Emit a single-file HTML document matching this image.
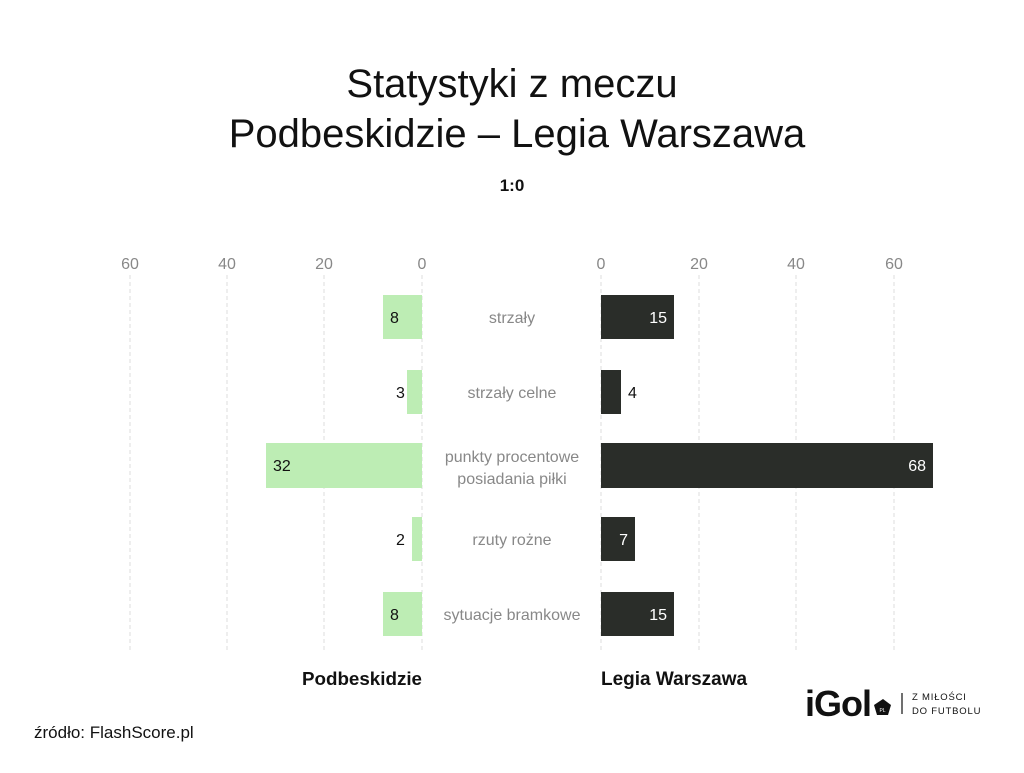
<!DOCTYPE html>
<html><head><meta charset="utf-8"><style>
body{margin:0;background:#fff;}
svg text{font-family:"Liberation Sans",sans-serif;}
</style></head><body>
<svg width="1024" height="768" viewBox="0 0 1024 768" xmlns="http://www.w3.org/2000/svg">
<rect width="1024" height="768" fill="#fff"/>
<text x="512" y="97" font-size="40" text-anchor="middle" fill="#111">Statystyki z meczu</text>
<text x="517" y="147" font-size="40" text-anchor="middle" fill="#111">Podbeskidzie – Legia Warszawa</text>
<text x="512" y="191" font-size="17" font-weight="bold" text-anchor="middle" fill="#111">1:0</text>
<g stroke="#ddd" stroke-width="1" stroke-dasharray="4,3">
<line x1="130" y1="275" x2="130" y2="652"/><line x1="227" y1="275" x2="227" y2="652"/><line x1="324" y1="275" x2="324" y2="652"/><line x1="422" y1="275" x2="422" y2="652"/>
<line x1="601" y1="275" x2="601" y2="652"/><line x1="699" y1="275" x2="699" y2="652"/><line x1="796" y1="275" x2="796" y2="652"/><line x1="894" y1="275" x2="894" y2="652"/>
</g>
<g font-size="16" fill="#888" text-anchor="middle">
<text x="130" y="269">60</text><text x="227" y="269">40</text><text x="324" y="269">20</text><text x="422" y="269">0</text>
<text x="601" y="269">0</text><text x="699" y="269">20</text><text x="796" y="269">40</text><text x="894" y="269">60</text>
</g>
<g fill="#bdedb4">
<rect x="383" y="295" width="39" height="44"/>
<rect x="407" y="370" width="15" height="44"/>
<rect x="266" y="443" width="156" height="45"/>
<rect x="412" y="517" width="10" height="44"/>
<rect x="383" y="592" width="39" height="44"/>
</g>
<g fill="#2a2d29">
<rect x="601" y="295" width="73" height="44"/>
<rect x="601" y="370" width="20" height="44"/>
<rect x="601" y="443" width="332" height="45"/>
<rect x="601" y="517" width="34" height="44"/>
<rect x="601" y="592" width="73" height="44"/>
</g>
<g font-size="16" fill="#111">
<text x="390" y="323">8</text>
<text x="396" y="398">3</text>
<text x="273" y="471">32</text>
<text x="396" y="545">2</text>
<text x="390" y="620">8</text>
<text x="628" y="398">4</text>
</g>
<g font-size="16" fill="#fff" text-anchor="end">
<text x="667" y="323">15</text>
<text x="926" y="471">68</text>
<text x="628" y="545">7</text>
<text x="667" y="620">15</text>
</g>
<g font-size="16" fill="#888" text-anchor="middle">
<text x="512" y="323">strzały</text>
<text x="512" y="398">strzały celne</text>
<text x="512" y="462">punkty procentowe</text>
<text x="512" y="484">posiadania piłki</text>
<text x="512" y="545">rzuty rożne</text>
<text x="512" y="620">sytuacje bramkowe</text>
</g>
<text x="422" y="685" font-size="18.8" font-weight="bold" text-anchor="end" fill="#111">Podbeskidzie</text>
<text x="601" y="685" font-size="19" font-weight="bold" fill="#111">Legia Warszawa</text>
<text x="34" y="738" font-size="17" fill="#111">źródło: FlashScore.pl</text>
<text x="805" y="716" font-size="36" font-weight="bold" fill="#111" letter-spacing="-1">iGol</text>
<polygon points="874,705 883,699 891,705 888,715 877,715" fill="#111"/>
<text x="882.5" y="712" font-size="5" fill="#fff" text-anchor="middle">PL</text>
<line x1="902" y1="693" x2="902" y2="714" stroke="#111" stroke-width="1.2"/>
<text x="912" y="700" font-size="9.5" fill="#111" letter-spacing="0.8">Z MIŁOŚCI</text>
<text x="912" y="714" font-size="9.5" fill="#111" letter-spacing="0.8">DO FUTBOLU</text>
</svg>
</body></html>
